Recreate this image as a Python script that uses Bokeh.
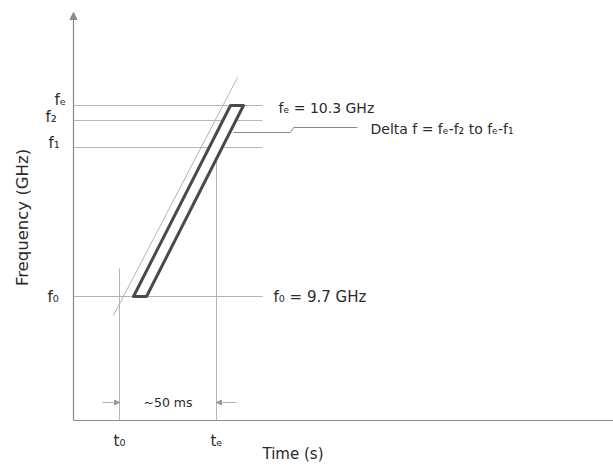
from bokeh.plotting import figure
from bokeh.models import Range1d, Arrow, NormalHead
from bokeh.core.properties import value
from bokeh.embed import file_html
from bokeh.resources import INLINE

# ---- diagram data (time in ms, frequency in GHz) ----
time_marks = [0, 50]                 # t0, te
time_labels = ["t\u2080", "t\u2091"]
freq_marks = [9.7, 10.168, 10.253, 10.3]   # f0, f1, f2, fe
freq_labels = ["f\u2080", "f\u2081", "f\u2082", "f\u2091"]
sweep_duration_label = "~50 ms"
f0_label = "f\u2080 = 9.7 GHz"
fe_label = "f\u2091 = 10.3 GHz"
delta_label = "Delta f = f\u2091-f\u2082 to f\u2091-f\u2081"
x_title = "Time (s)"
y_title = "Frequency (GHz)"

# ---- scales ----
PX_PER_MS = 1.94
PX_PER_GHZ = 318.3
X0_PX, Y0_PX = 119, 296
W, H = 613, 466


def tx(px):
    return (px - X0_PX) / PX_PER_MS


def fy(py):
    return freq_marks[0] + (Y0_PX - py) / PX_PER_GHZ


p = figure(width=W, height=H, output_backend="svg", toolbar_location=None,
           x_range=Range1d(tx(0), tx(W)), y_range=Range1d(fy(H), fy(0)),
           min_border=0, outline_line_color=None, background_fill_color="white")
p.axis.visible = False
p.grid.visible = False

AX = "#8a8a8a"
GUIDE = "#b4b4b4"
TXT = "#2a2a2a"
FONT = value("DejaVu Sans")

t0, te = time_marks
f0, f1, f2, fe = freq_marks
t_axis = tx(73)
f_axis = fy(420)

# axes
p.segment(x0=[t_axis], y0=[f_axis], x1=[tx(W)], y1=[f_axis], line_color=AX, line_width=1.2)
p.add_layout(Arrow(end=NormalHead(size=7, fill_color=AX, line_color=AX),
                   x_start=t_axis, y_start=f_axis, x_end=t_axis, y_end=fy(12),
                   line_color=AX, line_width=1.2))

# horizontal frequency guides
p.segment(x0=[t_axis] * 4, y0=freq_marks, x1=[tx(262)] * 4, y1=freq_marks,
          line_color=GUIDE, line_width=1)

# vertical time guides
p.segment(x0=[t0, te], y0=[f_axis, f_axis], x1=[t0, te], y1=[fy(268), fy(154)],
          line_color=GUIDE, line_width=1)

# thin slope reference line
p.line(x=[tx(113), tx(237)], y=[fy(315), fy(77)], line_color=GUIDE, line_width=1)

# sweep band (outlined parallelogram)
band_t = [tx(133), tx(146), tx(243), tx(230)]
band_f = [f0, f0, fe, fe]
p.patch(x=band_t, y=band_f, fill_color="white", line_color="#4a4a4a",
        line_width=3, line_join="round")

# delta-f leader
p.line(x=[tx(233), tx(290), tx(293), tx(357)],
       y=[fy(132), fy(132), fy(127), fy(127)], line_color=AX, line_width=1)

# ~50 ms arrows
ya = fy(402)
for xs, xe in [(tx(102), t0), (tx(236), te)]:
    p.add_layout(Arrow(end=NormalHead(size=5, fill_color="#9a9a9a", line_color="#9a9a9a"),
                       x_start=xs, y_start=ya, x_end=xe, y_end=ya,
                       line_color="#b0b0b0", line_width=1))

# texts
def txt(x, y, s, size="13px", align="left", angle=0.0):
    p.text(x=[x], y=[y], text=[s], text_font=FONT, text_font_size=size,
           text_color=TXT, text_align=align, text_baseline="middle", angle=angle)

txt(tx(278), fy(107), fe_label, "14px")
txt(tx(370), fy(128), delta_label, "14px")
txt(tx(273), fy(296), f0_label, "15px")
txt(tx(143), ya, sweep_duration_label, "12.5px")

# frequency labels on the left
left_pos = {f0: (47, 296), f1: (48, 142), f2: (45, 116), fe: (54, 99)}
for fm, lab in zip(freq_marks, freq_labels):
    px, py = left_pos[fm]
    txt(tx(px), fy(py), lab, "15px")

# time labels at the bottom
for tm, lab in zip(time_marks, time_labels):
    txt(tm, fy(440), lab, "15px", align="center")

txt(tx(262), fy(453), x_title, "15px")
txt(tx(22), fy(217), y_title, "16.5px", align="center", angle=1.5708)

open("out.html", "w").write(file_html(p, INLINE))
